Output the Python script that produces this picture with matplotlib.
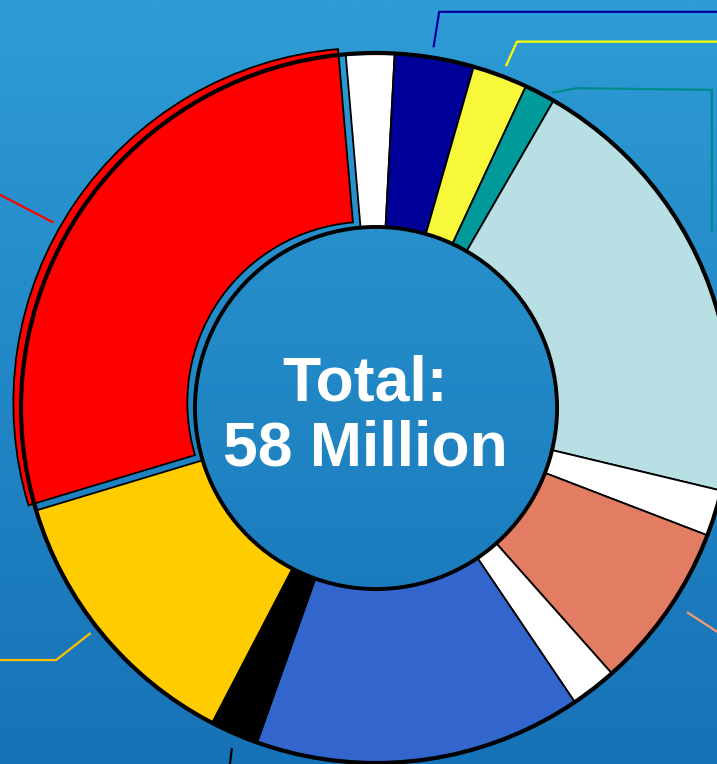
import numpy as np
import matplotlib.pyplot as plt
from matplotlib.patches import Circle
from matplotlib.colors import LinearSegmentedColormap

# shares of the 58 million total, clockwise from the top
groups = ["gap1", "navy", "yellow", "teal", "lightblue", "gap2",
          "salmon", "gap3", "blue", "black", "gold", "red"]
shares = [2.2, 3.6, 2.5, 1.4, 20.4, 2.1, 7.6, 2.1, 14.9, 2.2, 12.7, 28.3]
colors = ["#FFFFFF", "#000099", "#F8F83A", "#009A9A", "#B8DFE3", "#FFFFFF",
          "#E27C62", "#FFFFFF", "#3366CC", "#000000", "#FFCC00", "#FF0000"]
explode = [0, 0, 0, 0, 0, 0, 0, 0, 0, 0, 0, 0.026]

title_lines = ["Total:", "58 Million"]

# connector lines running off to the labels
leaders = [
    ("#FF0000", [(-0.908, 0.522), (-1.10, 0.622)]),
    ("#0000A0", [(0.162, 1.016), (0.178, 1.116), (1.10, 1.116)]),
    ("#FFFF00", [(0.366, 0.963), (0.397, 1.032), (1.10, 1.032)]),
    ("#008B8B", [(0.496, 0.888), (0.566, 0.901), (0.946, 0.896), (0.946, 0.496)]),
    ("#FFC000", [(-0.804, -0.634), (-0.901, -0.710), (-1.10, -0.710)]),
    ("#000000", [(-0.406, -0.958), (-0.417, -1.05)]),
    ("#F79A6C", [(0.876, -0.575), (1.00, -0.656)]),
]

fig = plt.figure(figsize=(7.17, 7.64), dpi=100)

# vertical blue gradient behind everything
bg = fig.add_axes([0, 0, 1, 1])
cmap = LinearSegmentedColormap.from_list("bg", ["#1672B6", "#2E9CD5"])
grad = np.linspace(0, 1, 256).reshape(-1, 1)
bg.imshow(grad, aspect="auto", cmap=cmap, origin="lower", extent=[0, 1, 0, 1])
bg.axis("off")

ax = fig.add_axes([0, 0, 1, 1])
ax.patch.set_alpha(0)

wedges, _ = ax.pie(shares, colors=colors, startangle=94.9, counterclock=False,
                   explode=explode, radius=1.0,
                   wedgeprops=dict(width=0.49, edgecolor="black", linewidth=1.3))

# ring outlines drawn over the slices
ax.add_patch(Circle((0, 0), 1.0, fill=False, ec="black", lw=3.0, zorder=5))
ax.add_patch(Circle((0, 0), 0.51, fill=False, ec="black", lw=2.8, zorder=5))

for col, pts in leaders:
    xs, ys = zip(*pts)
    ax.plot(xs, ys, color=col, lw=1.6, solid_capstyle="butt", zorder=1)

ax.text(-0.031, 0.0225, title_lines[0], ha="center", va="baseline",
        color="white", fontsize=45, fontweight="bold", family="Liberation Sans")
ax.text(-0.031, -0.163, title_lines[1], ha="center", va="baseline",
        color="white", fontsize=45, fontweight="bold", family="Liberation Sans")

ax.set_xlim(-376 / 355, (717 - 376) / 355)
ax.set_ylim(-(764 - 408) / 355, 408 / 355)
ax.set_aspect("equal")
ax.axis("off")

fig.savefig("out.png", dpi=100)
